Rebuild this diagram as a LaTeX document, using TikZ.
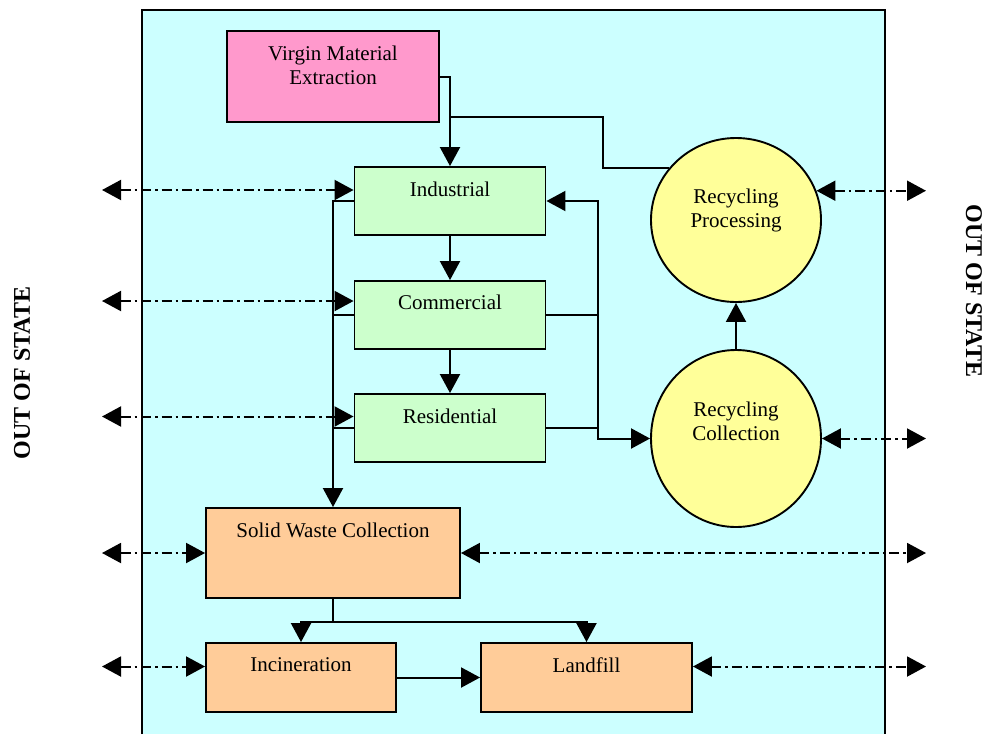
\documentclass[tikz,border=0pt]{standalone}
\usepackage{fontspec}
\setmainfont{Liberation Serif}
\usetikzlibrary{arrows.meta,shapes.geometric}
\definecolor{bgc}{HTML}{CCFFFF}
\definecolor{pinkc}{HTML}{FF99CC}
\definecolor{greenc}{HTML}{CCFFCC}
\definecolor{yellowc}{HTML}{FFFF99}
\definecolor{orangec}{HTML}{FFCC99}
\begin{document}
\begin{tikzpicture}[x=1pt,y=-1pt,
  box/.style={draw,line width=1.9pt,inner sep=0pt},
  oval/.style={draw,ellipse,line width=1.9pt,inner sep=0pt,fill=yellowc},
  txt/.style={inner sep=0pt,align=center,font=\fontsize{21}{24}\selectfont},
  con/.style={line width=2pt},
  arr/.style={con,-{Triangle[length=19pt,width=20pt]}},
  arrb/.style={con,{Triangle[length=19pt,width=20pt]}-{Triangle[length=19pt,width=20pt]}},
  dd/.style={line width=2pt,dash pattern=on 10pt off 4pt on 2.5pt off 4pt,{Triangle[length=19pt,width=20pt]}-{Triangle[length=19pt,width=20pt]}},
  oos/.style={font=\bfseries\fontsize{24}{28}\selectfont,inner sep=0pt}]
\useasboundingbox (0,0) rectangle (987,734);
\fill[bgc] (142,10) rectangle (885,734);
\draw[line width=1.5pt] (142,734) -- (142,10) -- (885,10) -- (885,734);

% nodes
\node[box,fill=pinkc,minimum width=212pt,minimum height=91pt] (vme) at (333,76.5) {};
\node[txt] (vmeT) at ([yshift=-35pt]vme.north) {Virgin Material\\Extraction};

\node[box,fill=greenc,minimum width=191pt,minimum height=68pt] (ind) at (450,201) {};
\node[txt] (indT) at ([yshift=-23pt]ind.north) {Industrial};
\node[box,fill=greenc,minimum width=191pt,minimum height=68pt] (com) at (450,315) {};
\node[txt] (comT) at ([yshift=-22pt]com.north) {Commercial};
\node[box,fill=greenc,minimum width=191pt,minimum height=68pt] (res) at (450,428) {};
\node[txt] (resT) at ([yshift=-23pt]res.north) {Residential};

\node[oval,minimum width=170pt,minimum height=164pt] (rp) at (736,220) {};
\node[txt] (rpT) at ([yshift=10pt]rp.center) {Recycling\\Processing};
\node[oval,minimum width=170pt,minimum height=177pt] (rc) at (736,438.5) {};
\node[txt] (rcT) at ([yshift=17pt]rc.center) {Recycling\\Collection};

\node[box,fill=orangec,minimum width=254pt,minimum height=90pt] (swc) at (333,553) {};
\node[txt] (swcT) at ([yshift=-23pt]swc.north) {Solid Waste Collection};
\node[box,fill=orangec,minimum width=190pt,minimum height=69pt] (inc) at (301,677.5) {};
\node[txt] (incT) at ([yshift=-23pt]inc.north) {Incineration};
\node[box,fill=orangec,minimum width=211pt,minimum height=69pt] (lf) at (586.5,677.5) {};
\node[txt] (lfT) at ([yshift=-23pt]lf.north) {Landfill};

\node[oos,rotate=90] (oosL) at (22,373) {OUT OF STATE};
\node[oos,rotate=-90] (oosR) at (974,291) {OUT OF STATE};

% helper coordinates
\coordinate (j1) at (450,117);
\coordinate (j2) at (603,117);
\coordinate (rbus) at (598,0);
\coordinate (lbus) at (333,0);
\coordinate (lout) at (102,0);
\coordinate (rout) at (926,0);

% virgin material
\draw[arr] (vme.east) -| (ind.north);
\draw[con] (j1) -- (j2) |- (rp.142);

% vertical chain
\draw[arr] (ind.south) -- (com.north);
\draw[arr] (com.south) -- (res.north);

% right bus
\draw[arrb] (ind.east) -- (ind.east -| rbus) -- (rc.west -| rbus) -- (rc.west);
\draw[con] (com.east) -- (com.east -| rbus);
\draw[con] (res.east) -- (res.east -| rbus);

% left bus
\draw[arr] (ind.west) -- (ind.west -| lbus) -- (swc.north);
\draw[con] (com.west) -- (com.west -| lbus);
\draw[con] (res.west) -- (res.west -| lbus);

% recycling collection -> processing
\draw[arr] (rc.north) -- (rp.south);

% solid waste distribution
\coordinate (sb) at ([yshift=-23pt]swc.south);
\draw[con] (swc.south) -- (sb);
\draw[arr] (sb) -| (inc.north);
\draw[arr] (sb) -| (lf.north);
\draw[arr] (inc.east) -- (lf.west);

% out of state flows
\coordinate (indL) at ([yshift=11pt]ind.west);
\coordinate (comL) at ([yshift=14pt]com.west);
\coordinate (resL) at ([yshift=11.5pt]res.west);
\coordinate (incL) at ([yshift=11pt]inc.west);
\coordinate (lfR) at ([yshift=11pt]lf.east);
\draw[dd] (indL -| lout) -- (indL);
\draw[dd] (comL -| lout) -- (comL);
\draw[dd] (resL -| lout) -- (resL);
\draw[dd] (swc.west -| lout) -- (swc.west);
\draw[dd] (incL -| lout) -- (incL);
\draw[dd] (rp.20) -- (rp.20 -| rout);
\draw[dd] (rc.east) -- (rc.east -| rout);
\draw[dd] (swc.east) -- (swc.east -| rout);
\draw[dd] (lfR) -- (lfR -| rout);
\end{tikzpicture}
\end{document}
